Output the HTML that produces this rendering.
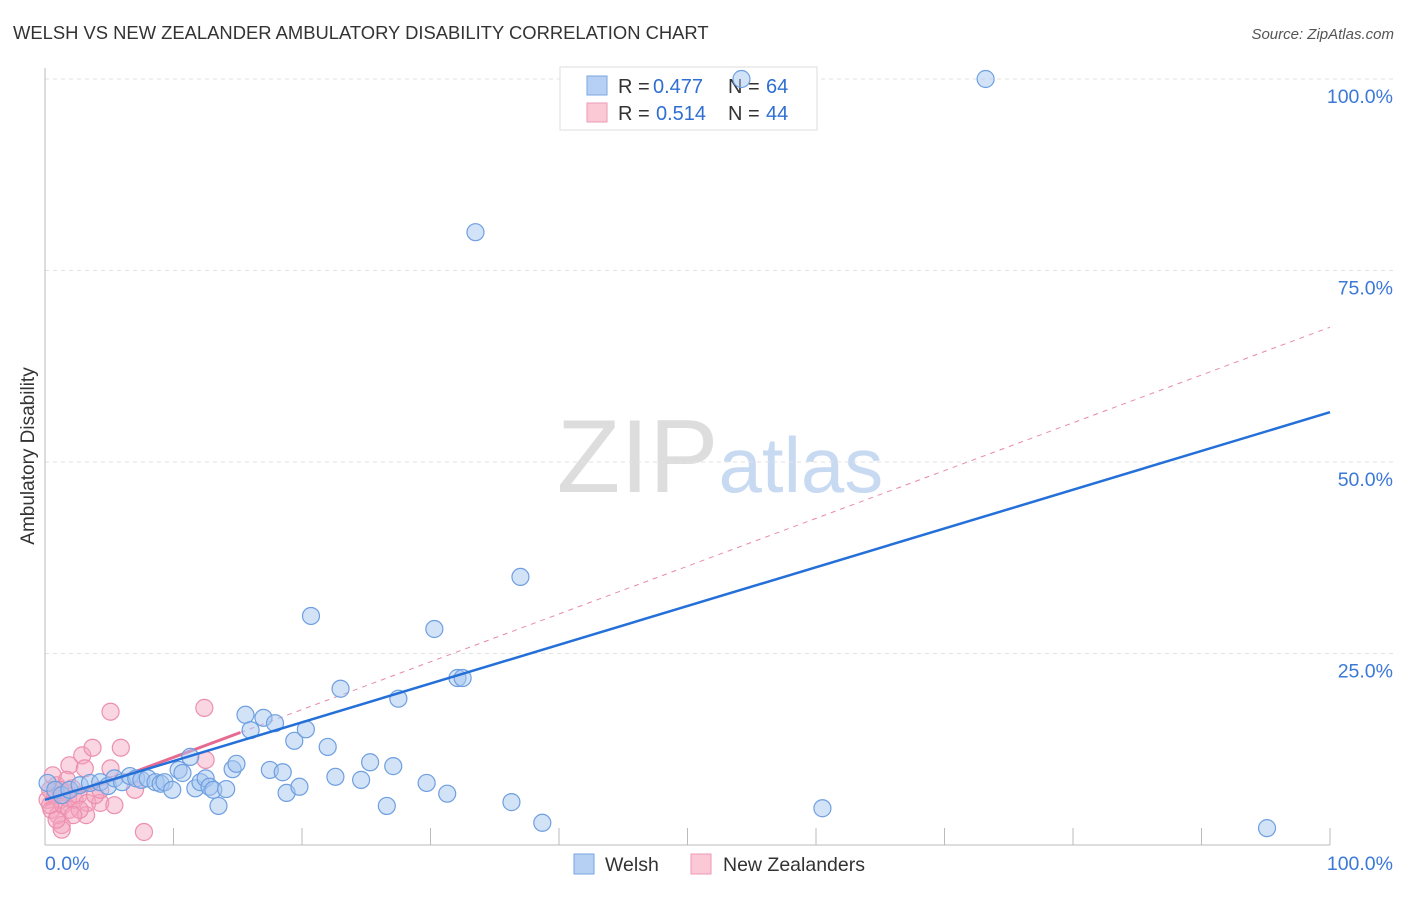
<!DOCTYPE html>
<html><head><meta charset="utf-8"><style>
body{margin:0;background:#fff;font-family:"Liberation Sans",sans-serif}
svg text{font-family:"Liberation Sans",sans-serif}
</style></head><body>
<svg id="chart" width="1406" height="892" xmlns="http://www.w3.org/2000/svg">
<text x="13" y="39" font-size="18.4" fill="#333">WELSH VS NEW ZEALANDER AMBULATORY DISABILITY CORRELATION CHART</text>
<text x="1394" y="39" font-size="15" fill="#555" font-style="italic" text-anchor="end">Source: ZipAtlas.com</text>
<text x="720" y="492" font-size="104" text-anchor="middle" fill="#ddd" font-family="Liberation Serif">ZIP<tspan fill="#c8daf2" font-family="Liberation Sans" font-size="78">atlas</tspan></text>
<text transform="translate(34,456) rotate(-90)" font-size="19" fill="#333" text-anchor="middle">Ambulatory Disability</text>
<g id="grid"></g><g id="axes"></g><g id="lines"></g>
<g>
<rect x="560" y="67" width="257" height="63" fill="#fff" stroke="#ddd"/>
<rect x="587" y="76" width="20" height="19" fill="#b5d0f3" stroke="#7aa6e0"/>
<rect x="587" y="103" width="20" height="19" fill="#fbc8d6" stroke="#ef9ab4"/>
<text x="618" y="93" font-size="20" fill="#333">R =</text>
<text x="653" y="93" font-size="20" fill="#2f6fd3">0.477</text>
<text x="728" y="93" font-size="20" fill="#333">N =</text>
<text x="766" y="93" font-size="20" fill="#2f6fd3">64</text>
<text x="618" y="120" font-size="20" fill="#333">R =</text>
<text x="656" y="120" font-size="20" fill="#2f6fd3">0.514</text>
<text x="728" y="120" font-size="20" fill="#333">N =</text>
<text x="766" y="120" font-size="20" fill="#2f6fd3">44</text>
</g>
<g id="pts"></g>
<g>
<rect x="574" y="854" width="20" height="20" fill="#b5d0f3" stroke="#7aa6e0"/>
<text x="605" y="871" font-size="19.5" fill="#333">Welsh</text>
<rect x="691" y="854" width="20" height="20" fill="#fbc8d6" stroke="#ef9ab4"/>
<text x="723" y="871" font-size="19.5" fill="#333">New Zealanders</text>
</g>
</svg>
<script>
const yTicks=[25,50,75,100];
const xTickLabels=["0.0%","100.0%"];
const welshX=[0.2,0.8,1.3,1.9,2.7,3.5,4.3,4.9,5.4,6.0,6.6,7.1,7.5,8.0,8.6,9.0,9.3,9.9,10.4,10.7,11.3,11.7,12.1,12.5,12.8,13.1,13.5,14.1,14.6,14.9,15.6,16.0,17.0,17.5,17.9,18.5,18.8,19.4,19.8,20.3,20.7,22.0,22.6,23.0,24.6,25.3,26.6,27.1,27.5,29.7,30.3,31.3,32.1,32.5,33.5,36.3,37.0,38.7,54.2,60.5,73.2,95.1];
const welshY=[8.1,7.2,6.5,7.2,7.8,8.1,8.2,7.7,8.7,8.2,9.0,8.7,8.5,8.7,8.2,8.0,8.2,7.2,9.8,9.4,11.5,7.4,8.2,8.7,7.6,7.2,5.1,7.3,9.9,10.6,17.0,15.0,16.6,9.8,15.9,9.5,6.8,13.6,7.6,15.1,29.9,12.8,8.9,20.4,8.5,10.8,5.1,10.3,19.1,8.1,28.2,6.7,21.8,21.8,80.0,5.6,35.0,2.9,100,4.8,100,2.2];
const nzX=[0.2,0.4,0.5,0.8,0.9,1.0,1.2,1.3,1.4,1.6,1.8,1.9,2.1,2.3,1.3,2.6,1.9,2.9,3.2,3.3,3.7,3.1,4.3,5.1,5.1,5.4,5.9,7.0,7.7,12.4,12.5,0.4,0.9,1.7,0.6,3.9,2.7,4.3,1.2,2.2];
const nzY=[5.9,7.2,4.6,6.5,7.8,3.9,5.9,2.6,5.2,6.9,6.1,4.6,7.4,5.9,2.0,6.5,10.4,11.7,3.9,5.5,12.7,10.0,5.5,10.0,17.4,5.2,12.7,7.2,1.7,17.9,11.1,5.2,3.3,8.5,9.1,6.5,4.6,7.2,7.2,3.9];
const welshFit=[5.9,56.5];
const nzFit=[5.2,67.6];
const nzSolidEnd=15.2;
const NS="http://www.w3.org/2000/svg";
const X=v=>45+v*12.85, Y=v=>845-v*7.66;
function mk(t,a,p){const e=document.createElementNS(NS,t);for(const k in a)e.setAttribute(k,a[k]);document.getElementById(p).appendChild(e);return e;}
yTicks.forEach(t=>{
 const g=mk('line',{x1:45,x2:1394,y1:Y(t),y2:Y(t),stroke:'#e2e2e2','stroke-dasharray':'4,4'},'grid');
 
 
 const l=mk('text',{x:1393,y:Y(t)+24,'font-size':19.5,fill:'#3b78d8','text-anchor':'end'},'grid');
 l.textContent=t.toFixed(1)+'%';
 
 
});
mk('line',{x1:45,x2:45,y1:68,y2:845,stroke:'#bbb'},'axes');
mk('line',{x1:45,x2:1330,y1:845,y2:845,stroke:'#bbb'},'axes');
for(let i=1;i<=10;i++){const t=mk('line',{x1:X(i*10),x2:X(i*10),y1:828,y2:845,stroke:'#bbb'},'axes');
 
 }
const xl0=mk('text',{x:45,y:870,'font-size':19.5,fill:'#3b78d8'},'axes');xl0.textContent=xTickLabels[0];


const xl1=mk('text',{x:1393,y:870,'font-size':19.5,fill:'#3b78d8','text-anchor':'end'},'axes');xl1.textContent=xTickLabels[1];


nzX.forEach((x,i)=>{const c=mk('circle',{cx:X(x),cy:Y(nzY[i]),r:8.5,fill:'rgba(245,165,190,0.45)',stroke:'#ec8fae','stroke-width':1.2},'pts');
 
 });
welshX.forEach((x,i)=>{const c=mk('circle',{cx:X(x),cy:Y(welshY[i]),r:8.5,fill:'rgba(165,198,240,0.5)',stroke:'#6e9fe0','stroke-width':1.2},'pts');
 
 });
const nf=v=>nzFit[0]+(nzFit[1]-nzFit[0])*v/100;
const d=mk('line',{x1:X(nzSolidEnd),y1:Y(nf(nzSolidEnd)),x2:X(100),y2:Y(nzFit[1]),stroke:'#e88aa8','stroke-dasharray':'5,5'},'lines');


const s=mk('line',{x1:X(0),y1:Y(nzFit[0]),x2:X(nzSolidEnd),y2:Y(nf(nzSolidEnd)),stroke:'#e66a92','stroke-width':3},'lines');


const b=mk('line',{x1:X(0),y1:Y(welshFit[0]),x2:X(100),y2:Y(welshFit[1]),stroke:'#2470d8','stroke-width':2.5},'pts');


</script>
</body></html>
